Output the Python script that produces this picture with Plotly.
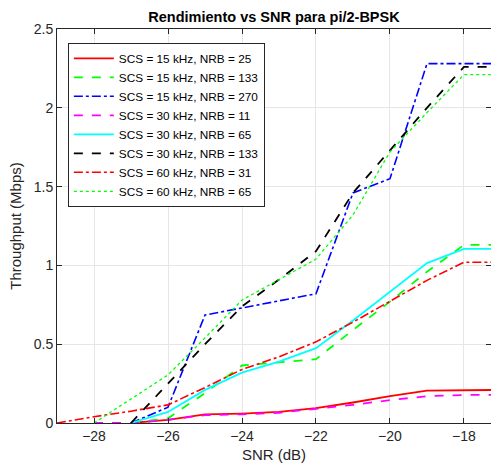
import plotly.graph_objects as go

snr = [-29, -28, -27, -26, -25, -24, -23, -22, -21, -20, -19, -18, -17]

labels = [
    "SCS = 15 kHz, NRB = 25",
    "SCS = 15 kHz, NRB = 133",
    "SCS = 15 kHz, NRB = 270",
    "SCS = 30 kHz, NRB = 11",
    "SCS = 30 kHz, NRB = 65",
    "SCS = 30 kHz, NRB = 133",
    "SCS = 60 kHz, NRB = 31",
    "SCS = 60 kHz, NRB = 65",
]

scs15_nrb25 = [None, None, 0, 0.02, 0.055, 0.06, 0.07, 0.095, 0.13, 0.17, 0.205, 0.21, 0.21]
scs15_nrb133 = [None, None, 0, 0.03, 0.19, 0.365, 0.385, 0.405, 0.59, 0.77, 0.96, 1.13, 1.13]
scs15_nrb270 = [None, None, 0, 0.10, 0.685, 0.73, 0.775, 0.82, 1.46, 1.55, 2.28, 2.28, 2.28]
scs30_nrb11 = [None, 0, 0, 0.02, 0.05, 0.055, 0.065, 0.09, 0.115, 0.145, 0.17, 0.178, 0.178]
scs30_nrb65 = [None, None, 0, 0.07, 0.21, 0.32, 0.39, 0.475, 0.65, 0.83, 1.015, 1.105, 1.105]
scs30_nrb133 = [None, None, 0, 0.25, 0.50, 0.74, 0.91, 1.09, 1.46, 1.73, 2.0, 2.26, 2.26]
scs60_nrb31 = [0, 0.04, 0.075, 0.115, 0.225, 0.34, 0.42, 0.515, 0.64, 0.77, 0.905, 1.02, 1.02]
scs60_nrb65 = [None, 0, 0.155, 0.305, 0.54, 0.78, 0.91, 1.04, 1.32, 1.72, 1.97, 2.21, 2.21]

series = [scs15_nrb25, scs15_nrb133, scs15_nrb270, scs30_nrb11,
          scs30_nrb65, scs30_nrb133, scs60_nrb31, scs60_nrb65]
colors = ["#ff0000", "#00ff00", "#0000ff", "#ff00ff", "#00ffff", "#000000", "#ff0000", "#00ff00"]
dashes = ["solid", "dash", "dashdot", "dash", "solid", "dash", "dashdot", "dot"]
widths = [1.8, 1.8, 1.6, 1.8, 1.8, 1.8, 1.6, 1.3]

fig = go.Figure()
for lab, ys, c, d, w in zip(labels, series, colors, dashes, widths):
    xs = [x for x, y in zip(snr, ys) if y is not None]
    yv = [y for y in ys if y is not None]
    fig.add_trace(go.Scatter(x=xs, y=yv, mode="lines", name=lab,
                             line=dict(color=c, dash=d, width=w)))

font = "Liberation Sans, Arial, sans-serif"
fig.update_layout(
    width=491, height=471,
    margin=dict(l=57, r=0, t=29, b=48),
    plot_bgcolor="white", paper_bgcolor="white",
    font=dict(family=font, size=14, color="#262626"),
    title=dict(text="<b>Rendimiento vs SNR para pi/2-BPSK</b>",
               x=0.5, xref="paper", y=1 - 17 / 471, yanchor="middle",
               font=dict(size=14.5, color="#000000")),
    showlegend=True,
    legend=dict(x=0.025, y=0.965, xanchor="left", yanchor="top",
                bgcolor="white", bordercolor="#262626", borderwidth=1,
                font=dict(size=11.8, color="#000000"), tracegroupgap=0,
                itemwidth=40),
    xaxis=dict(range=[-29, -17.27], tickvals=[-28, -26, -24, -22, -20, -18],
               showgrid=True, gridcolor="#e6e6e6", zeroline=False,
               showline=True, linecolor="#262626", mirror="ticks",
               ticks="inside", ticklen=5, tickcolor="#262626",
               title=dict(text="SNR (dB)", standoff=6, font=dict(size=15))),
    yaxis=dict(range=[0, 2.5], tickvals=[0, 0.5, 1, 1.5, 2, 2.5],
               ticktext=["0", "0.5", "1", "1.5", "2", "2.5"],
               showgrid=True, gridcolor="#e6e6e6", zeroline=False,
               showline=True, linecolor="#262626", mirror="ticks",
               ticks="inside", ticklen=5, tickcolor="#262626",
               title=dict(text="Throughput (Mbps)", standoff=8, font=dict(size=15))),
)

fig.write_html("out.html")
